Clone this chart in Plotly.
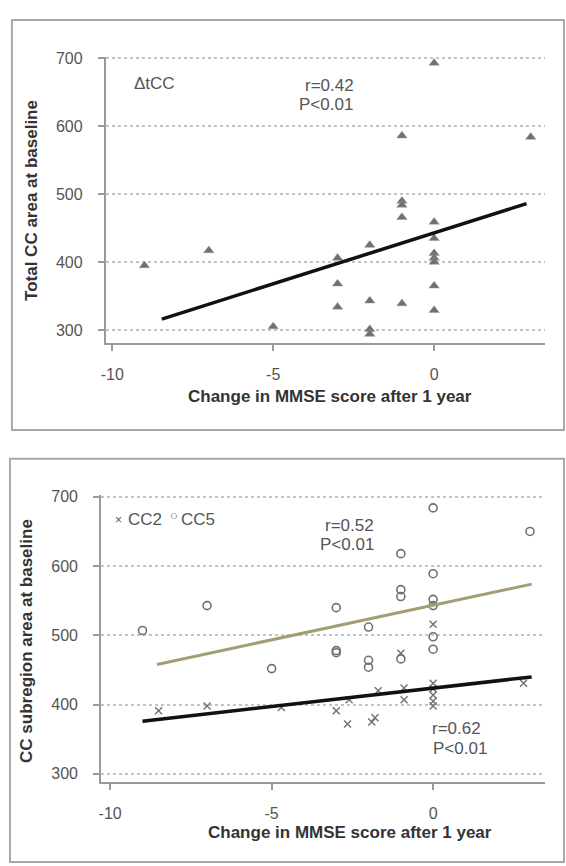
import plotly.graph_objects as go

# ---------------- data ----------------
# Top panel: total corpus callosum (tCC) area vs change in MMSE
tcc_x = [-9, -7, -5, -3, -3, -3, -2, -2, -2, -2, -1, -1, -1, -1, -1,
         0, 0, 0, 0, 0, 0, 0, 0, 3]
tcc_y = [395, 417, 305, 406, 368, 334, 425, 343, 301, 294, 586, 490, 484, 466, 339,
         693, 459, 435, 413, 406, 400, 365, 329, 584]
tcc_fit_x = [-8.46, 2.87]
tcc_fit_y = [316, 486]

# Bottom panel: CC2 (crosses) and CC5 (open circles)
cc2_x = [-8.5, -7, -4.7, -3, -2.65, -2.6, -1.9, -1.8, -1.7, -0.9, -0.9, -1,
         0, 0, 0, 0, 0, 0, 2.8]
cc2_y = [391, 398, 396, 391, 372, 407, 375, 381, 420, 424, 407, 474,
         516, 431, 423, 414, 405, 398, 431]
cc2_fit_x = [-9.0, 3.05]
cc2_fit_y = [376, 440]

cc5_x = [-9, -7, -5, -3, -3, -3, -2, -2, -2, -1, -1, -1, -1,
         0, 0, 0, 0, 0, 0, 3]
cc5_y = [507, 543, 452, 540, 478, 475, 512, 464, 454, 618, 566, 556, 466,
         684, 589, 552, 543, 498, 480, 650]
cc5_fit_x = [-8.55, 3.05]
cc5_fit_y = [458, 574]

x_tickvals = [-10, -5, 0]
x_ticktext = ["-10", "-5", "0"]
y_tickvals = [300, 400, 500, 600, 700]
y_ticktext = ["300", "400", "500", "600", "700"]

x_title = "Change in MMSE score after 1 year"
top_y_title = "Total CC area at baseline"
bottom_y_title = "CC subregion area at baseline"
top_legend = "\u0394tCC"
cc2_symbol, cc2_name = "\u00d7", "CC2"
cc5_symbol, cc5_name = "\u25cb", "CC5"
tcc_stats = ["r=0.42", "P<0.01"]
cc5_stats = ["r=0.52", "P<0.01"]
cc2_stats = ["r=0.62", "P<0.01"]

# ---------------- styling ----------------
W, H = 566, 866
FONT = "Liberation Sans, Arial, sans-serif"
AX = "#9a9a9a"
GRID = "#c4c4c4"
TXT = "#555555"
TTL = "#333333"
MK = "#707070"


def px(x):
    return x / W


def py(y):
    return 1 - y / H


fig = go.Figure()

# top panel
fig.add_trace(go.Scatter(x=tcc_x, y=tcc_y, mode="markers", xaxis="x", yaxis="y",
                         marker=dict(symbol="triangle-up", size=9, color=MK,
                                     line=dict(width=0.5, color="#999999")),
                         showlegend=False, hoverinfo="x+y"))
fig.add_trace(go.Scatter(x=tcc_fit_x, y=tcc_fit_y, mode="lines", xaxis="x", yaxis="y",
                         line=dict(color="#111111", width=3.5), showlegend=False))

# bottom panel
fig.add_trace(go.Scatter(x=cc5_x, y=cc5_y, mode="markers", xaxis="x2", yaxis="y2",
                         marker=dict(symbol="circle-open", size=8, color=MK,
                                     line=dict(width=1.6, color=MK)),
                         showlegend=False))
fig.add_trace(go.Scatter(x=cc2_x, y=cc2_y, mode="markers", xaxis="x2", yaxis="y2",
                         marker=dict(symbol="x-thin-open", size=7, color=MK,
                                     line=dict(width=1.4, color=MK)),
                         showlegend=False))
fig.add_trace(go.Scatter(x=cc5_fit_x, y=cc5_fit_y, mode="lines", xaxis="x2", yaxis="y2",
                         line=dict(color="#a29d73", width=3), showlegend=False))
fig.add_trace(go.Scatter(x=cc2_fit_x, y=cc2_fit_y, mode="lines", xaxis="x2", yaxis="y2",
                         line=dict(color="#111111", width=3.5), showlegend=False))

common_x = dict(showline=True, linecolor=AX, linewidth=2, ticks="outside", ticklen=6,
                tickcolor=AX, tickwidth=2, showgrid=False, zeroline=False,
                tickvals=x_tickvals, ticktext=x_ticktext, ticklabelstandoff=10,
                tickfont=dict(family=FONT, size=16, color=TXT))
common_y = dict(showline=True, linecolor=AX, linewidth=2, ticks="outside", ticklen=6,
                tickcolor=AX, tickwidth=2, showgrid=True, gridcolor=GRID, gridwidth=1.5,
                griddash="dot", zeroline=False, tickvals=y_tickvals, ticktext=y_ticktext,
                ticklabelstandoff=12, tickfont=dict(family=FONT, size=16, color=TXT))

fig.update_layout(
    width=W, height=H, margin=dict(l=0, r=0, t=0, b=0),
    paper_bgcolor="white", plot_bgcolor="white",
    xaxis=dict(domain=[px(101.7), px(545)], range=[-10.2, 3.45], anchor="y", **common_x),
    yaxis=dict(domain=[py(339.3), py(50)], range=[280.6, 702.5], anchor="x", **common_y),
    xaxis2=dict(domain=[px(97), px(545)], range=[-10.28, 3.47], anchor="y2", **common_x),
    yaxis2=dict(domain=[py(782), py(493)], range=[288.6, 702], anchor="x2", **common_y),
)

# panel frames
for (x0, y0, x1, y1) in [(7, 13, 564, 427), (5, 456, 564, 863)]:
    fig.add_shape(type="rect", xref="paper", yref="paper",
                  x0=px(x0), x1=px(x1), y0=py(y1), y1=py(y0),
                  line=dict(color="#a8a8a8", width=2), fillcolor="rgba(0,0,0,0)")


def note(text, x, y, size=17, color=TXT, bold=False, xanchor="center", angle=0):
    fig.add_annotation(text=("<b>%s</b>" % text) if bold else text,
                       x=px(x), y=py(y), xref="paper", yref="paper",
                       xanchor=xanchor, yanchor="middle", showarrow=False,
                       textangle=angle, font=dict(family=FONT, size=size, color=color))


# axis titles
note(x_title, 328, 393, size=17, color=TTL, bold=True)
note(top_y_title, 26, 195, size=17, color=TTL, bold=True, angle=-90)
note(x_title, 348, 833, size=17, color=TTL, bold=True)
note(bottom_y_title, 21, 640, size=17, color=TTL, bold=True, angle=-90)

# legends and statistics
note(top_legend, 128, 77, size=17, xanchor="left")
note(tcc_stats[0], 327, 79)
note(tcc_stats[1], 323.5, 98)
note(cc2_symbol, 114.5, 518, size=12)
note(cc2_name, 122, 517, size=17, xanchor="left")
note(cc5_symbol, 171, 513, size=13)
note(cc5_name, 176, 517, size=17, xanchor="left")
note(cc5_stats[0], 348, 523)
note(cc5_stats[1], 345, 543)
note(cc2_stats[0], 456, 728)
note(cc2_stats[1], 459.5, 748)

fig.write_html("out.html", config={"displayModeBar": False},
               post_script="document.body.style.margin='0px';")
